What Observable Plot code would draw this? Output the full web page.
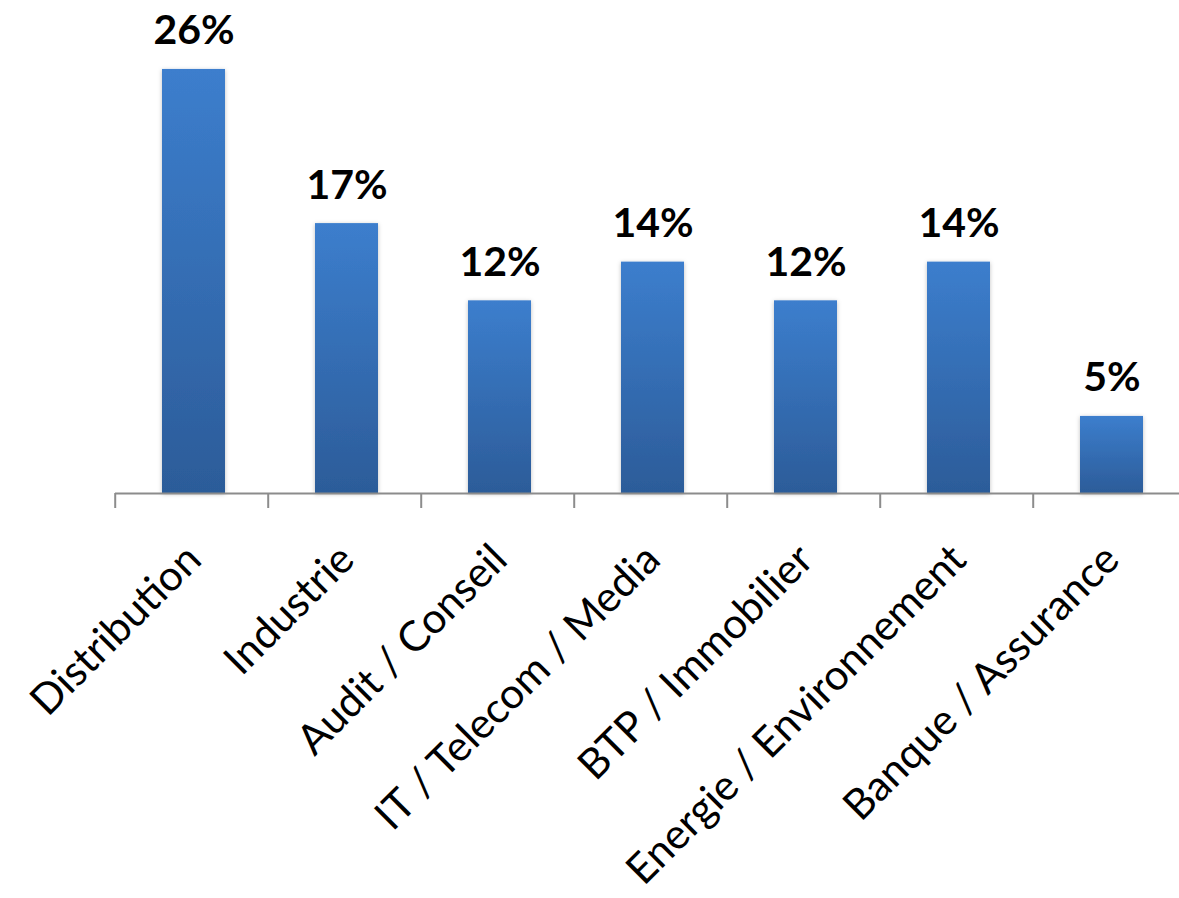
<!DOCTYPE html>
<html>
<head>
<meta charset="utf-8">
<script src="https://cdn.jsdelivr.net/npm/d3@7"></script>
<script src="https://cdn.jsdelivr.net/npm/@observablehq/plot@0.6"></script>
<style>
  html, body { margin: 0; padding: 0; background: #fff; overflow: hidden; }
  svg { display: block; }
</style>
</head>
<body>
<div id="chart"></div>
<script>
const categories = ["Distribution", "Industrie", "Audit / Conseil", "IT / Telecom / Media", "BTP / Immobilier", "Energie / Environnement", "Banque / Assurance"];
const shares = [26.19, 16.67, 11.90, 14.29, 11.90, 14.29, 4.76];

const data = categories.map((c, i) => ({category: c, share: shares[i]}));

const defsMark = () => {
  const ns = "http://www.w3.org/2000/svg";
  const defs = document.createElementNS(ns, "defs");
  defs.innerHTML = `
    <linearGradient id="barGrad" x1="0" y1="0" x2="0" y2="1">
      <stop offset="0" stop-color="#3c7ecd"/>
      <stop offset="1" stop-color="#2c5c99"/>
    </linearGradient>
    <filter id="barShadow" x="-30%" y="-10%" width="160%" height="120%">
      <feDropShadow dx="0" dy="1" stdDeviation="2" flood-color="#000" flood-opacity="0.25"/>
    </filter>`;
  return defs;
};

const step = 1075 / 7;

const chart = Plot.plot({
  width: 1179,
  height: 898,
  marginTop: 0,
  marginBottom: 405,
  marginLeft: 115,
  marginRight: 0,
  style: {background: "#fff", fontFamily: "Lato, 'Open Sans', sans-serif"},
  x: {domain: categories, range: [115, 1190], paddingInner: 0.59, paddingOuter: 0.295, axis: null, label: null},
  y: {domain: [0, 30.45], axis: null},
  marks: [
    defsMark,
    Plot.barY(data, {x: "category", y: "share", fill: "url(#barGrad)"}),
    Plot.ruleY([0], {stroke: "#8c8c8c", strokeWidth: 2}),
    Plot.axisX({tickSize: 15, tickFormat: () => "", label: null, dx: -step / 2 - 2, stroke: "#8c8c8c", strokeWidth: 2}),
    Plot.text(data, {
      x: "category", text: "category", frameAnchor: "bottom",
      rotate: -45, textAnchor: "end", lineAnchor: "middle",
      dx: 0, dy: 59, fontSize: 42, fill: "#000"
    }),
    Plot.text(data, {
      x: "category", y: "share", text: d => Math.round(d.share) + "%",
      lineAnchor: "bottom", dy: -25, fontSize: 41, fontWeight: "bold", fill: "#000"
    })
  ]
});

chart.querySelectorAll("g[fill='url(#barGrad)']").forEach(g => g.setAttribute("filter", "url(#barShadow)"));

document.getElementById("chart").appendChild(chart);
</script>
</body>
</html>
